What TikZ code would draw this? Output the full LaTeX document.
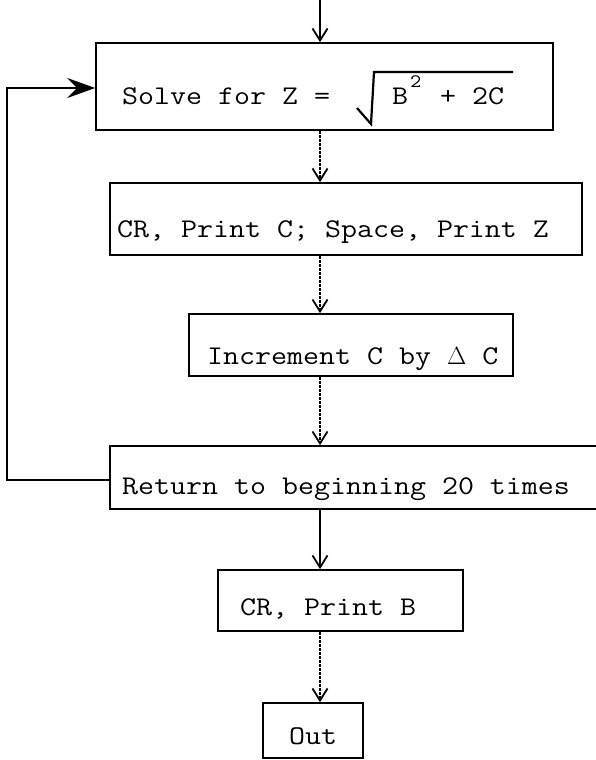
\documentclass[tikz,border=0pt]{standalone}
\usepackage{fontspec}
\setmonofont{Latin Modern Mono}[FakeStretch=1.15]
\usetikzlibrary{arrows.meta}
\begin{document}
\begin{tikzpicture}[x=1pt,y=-1pt,
  box/.style={draw, line width=1.7pt, inner sep=0pt},
  lbl/.style={anchor=base west, inner sep=0pt, font=\ttfamily\fontsize{27}{30}\selectfont},
  supnum/.style={anchor=base west, inner sep=0pt, font=\ttfamily\fontsize{19}{21}\selectfont},
  link/.style={line width=1.1pt, dash pattern=on 3pt off 1pt,
    -{Straight Barb[length=12pt,width=15pt,line width=1.8pt]}},
  boldlink/.style={line width=1.8pt,
    -{Straight Barb[length=12pt,width=15pt,line width=1.8pt]}},
  looparrow/.style={line width=2.6pt, -{Stealth[length=28pt,width=20pt,inset=10pt]}},
  radical/.style={line width=2.2pt, line join=miter}]
\useasboundingbox (0,0) rectangle (595,760);
% boxes
\node[box, minimum width=457pt, minimum height=87pt] (b1) at (324.5,86.5) {};
\node[box, minimum width=472pt, minimum height=72pt] (b2) at (346,219) {};
\node[box, minimum width=324pt, minimum height=62pt] (b3) at (351,345) {};
\node[box, minimum width=490pt, minimum height=63pt] (b4) at (355,477.5) {};
\node[box, minimum width=245pt, minimum height=61pt] (b5) at (340.5,600.5) {};
\node[box, minimum width=100pt, minimum height=55pt] (b6) at (313,730.5) {};
% texts
\node[lbl] (t1) at (122,104) {Solve for Z =};
\node[lbl] (t1b) at (392,104) {B};
\node[supnum] (t1c) at (410,87) {2};
\node[lbl] (t1d) at (440,104) {+ 2C};
\node[lbl] (t2) at (117,237) {CR, Print C; Space, Print Z};
\node[lbl] (t3) at (207,364) {Increment C by $\Delta$ C};
\node[lbl] (t4) at (122,494) {Return to beginning 20 times};
\node[lbl] (t5) at (240,615) {CR, Print B};
\node[lbl] (t6) at (289,744) {Out};
% radical sign
\coordinate (r0) at (357,108);
\coordinate (r1) at (371,124);
\coordinate (r2) at (374,72);
\coordinate (r3) at (513,72);
\draw[radical] (r0) -- (r1) -- (r2) -- (r3);
% connectors
\coordinate (c0) at (320,0);
\draw[boldlink, line width=2.6pt] (c0) -- (c0 |- b1.north);
\draw[link] (b1.south -| c0) -- (b2.north -| c0);
\draw[link] (b2.south -| c0) -- (b3.north -| c0);
\draw[link] (b3.south -| c0) -- (b4.north -| c0);
\draw[boldlink] (b4.south -| c0) -- (b5.north -| c0);
\draw[link] (b5.south -| c0) -- (b6.north -| c0);
% return loop
\coordinate (lp1) at (7,480);
\coordinate (lp2) at (7,88);
\draw[looparrow] (lp1 -| b4.west) -- (lp1) -- (lp2) -- (lp2 -| b1.west);
\end{tikzpicture}
\end{document}
